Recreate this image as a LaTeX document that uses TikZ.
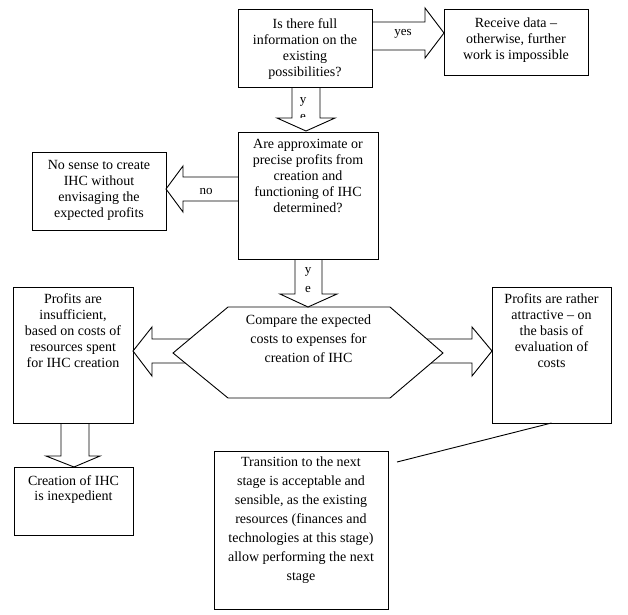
\documentclass[tikz,border=0pt]{standalone}
\usepackage{fontspec}
\setmainfont{Liberation Serif}
\begin{document}
\begin{tikzpicture}[x=1pt,y=-1pt,
  box/.style={draw, line width=0.9pt, inner sep=0pt, outer sep=0pt, anchor=north west},
  txt/.style={inner sep=0pt, anchor=north, align=center, font=\fontsize{14}{16}\selectfont},
  txtw/.style={txt, font=\fontsize{14}{19}\selectfont},
  txtc/.style={txt, font=\fontsize{14}{15}\selectfont},
  lbl/.style={inner sep=0pt, font=\fontsize{13}{15}\selectfont},
  barrow/.style={draw, line width=0.9pt, line join=miter},
  conn/.style={draw, line width=0.9pt}]
\useasboundingbox (0,0) rectangle (628,614);

% boxes
\node[box, minimum width=134pt, minimum height=78pt] (b1) at (238,9) {};
\node[box, minimum width=144pt, minimum height=66pt] (b2) at (444,9) {};
\node[box, minimum width=140pt, minimum height=127pt] (b3) at (238,132) {};
\node[box, minimum width=134pt, minimum height=78pt] (b4) at (32,152) {};
\node[box, minimum width=120pt, minimum height=136pt] (b5) at (13,287) {};
\node[box, minimum width=119pt, minimum height=136pt] (b6) at (492,287) {};
\node[box, minimum width=119pt, minimum height=68pt] (b7) at (14,467) {};
\node[box, minimum width=174pt, minimum height=158pt] (b8) at (214,451) {};

% hexagon
\coordinate (hl) at (173,353);
\coordinate (hr) at (443,353);
\draw[line width=0.9pt, line join=miter] (hl) -- (228,307) -- (390,307) -- (hr) -- (390,398) -- (228,398) -- cycle;

% texts
\node[txt] (t1) at (b1.north |- 0,18) {Is there full\\information on the\\existing\\possibilities?};
\node[txt] (t2) at (b2.north |- 0,18) {Receive data --\\otherwise, further\\work is impossible};
\node[txt] (t3) at (b3.north |- 0,139) {Are approximate or\\precise profits from\\creation and\\functioning of IHC\\determined?};
\node[txt] (t4) at (b4.north |- 0,160) {No sense to create\\IHC without\\envisaging the\\expected profits};
\node[txt] (t5) at (b5.north |- 0,293) {Profits are\\insufficient,\\based on costs of\\resources spent\\for IHC creation};
\node[txt] (t6) at (b6.north |- 0,293) {Profits are rather\\attractive -- on\\the basis of\\evaluation of\\costs};
\node[txtw] (th) at (308.5,315) {Compare the expected\\costs to expenses for\\creation of IHC};
\node[txtc] (t7) at (b7.north |- 0,475) {Creation of IHC\\is inexpedient};
\node[txtw] (t8) at (b8.north |- 0,457) {Transition to the next\\stage is acceptable and\\sensible, as the existing\\resources (finances and\\technologies at this stage)\\allow performing the next\\stage};

% arrow labels
\node[lbl] (lyes) at (403,34) {yes};
\node[lbl] (lno) at (206,191) {no};
\node[lbl] (ly1) at (303,102) {y};
\node[lbl] (le1) at (303,117) {e};
\node[lbl] (ly2) at (308,272) {y};
\node[lbl] (le2) at (308,289) {e};

% block arrows
\path[fill=white] (277,118) -- (306,131) -- (335,118) -- cycle;
\path[fill=white] (280,294) -- (308,307) -- (337,294) -- cycle;
\draw[barrow] (372,22) -- (425,22) -- (425,8) -- (b2.west |- 0,33) -- (425,58) -- (425,50) -- (372,50);
\draw[barrow] (292,87) -- (292,118) -- (277,118) -- (306,131) -- (335,118) -- (320,118) -- (320,87);
\draw[barrow] (238,177) -- (183,177) -- (183,166) -- (b4.east |- 0,189) -- (183,212) -- (183,201) -- (238,201);
\draw[barrow] (295,259) -- (295,294) -- (280,294) -- (308,307) -- (337,294) -- (322,294) -- (322,259);
\draw[barrow] (190,339) -- (152,339) -- (152,327) -- (b5.east |- 0,351) -- (152,376) -- (152,363) -- (185,363);
\draw[barrow] (427,339) -- (472,339) -- (472,327) -- (b6.west |- 0,351) -- (472,376) -- (472,363) -- (431,363);
\draw[barrow] (61,423) -- (61,456) -- (46,456) -- (74,467) -- (100,456) -- (89,456) -- (89,423);

% plain connector
\coordinate (lend) at (397,462);
\draw[conn] (b6.south) -- (lend);
\end{tikzpicture}
\end{document}
